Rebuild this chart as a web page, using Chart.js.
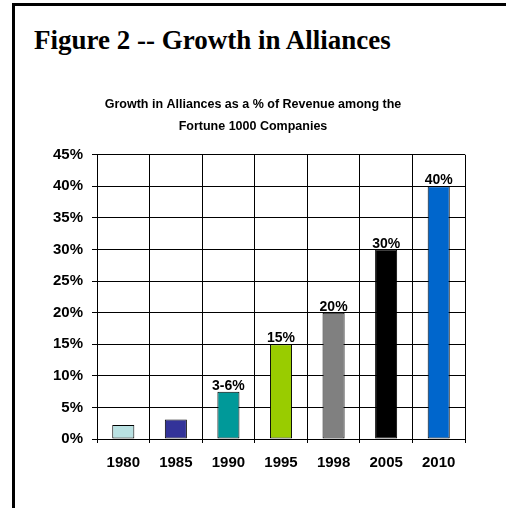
<!DOCTYPE html>
<html>
<head>
<meta charset="utf-8">
<script src="https://cdn.jsdelivr.net/npm/chart.js@4/dist/chart.umd.min.js"></script>
<style>
  body { margin: 0; background: #fff; }
  #wrap { position: relative; width: 506px; height: 508px; overflow: hidden; }
  #frame { position: absolute; left: 12px; top: 3px; width: 600px; height: 600px;
           border-left: 3px solid #000; border-top: 3px solid #000; }
  #fig { position: absolute; left: 34px; top: 25px; margin: 0; line-height: 31px;
         font: bold 27px "Liberation Serif", "Times New Roman", serif; color: #000; }
  #c { position: absolute; left: 0; top: 0; }
</style>
</head>
<body>
<div id="wrap">
  <div id="frame"></div>
  <h1 id="fig">Figure 2 -- Growth in Alliances</h1>
  <canvas id="c" width="506" height="508"></canvas>
</div>
<script>
// chart data
var years = ['1980', '1985', '1990', '1995', '1998', '2005', '2010'];
var share = [2.2, 3.1, 7.5, 15, 20, 30, 40];
var barLabels = ['', '', '3-6%', '15%', '20%', '30%', '40%'];
var barColors = ['#b9e1e2', '#333399', '#009999', '#99cc00', '#808080', '#000000', '#0066cc'];
var subtitle = ['Growth in Alliances as a % of Revenue among the', 'Fortune 1000 Companies'];

// write the text above each bar
var topLabels = {
  id: 'topLabels',
  afterDatasetsDraw: function(chart) {
    var ctx = chart.ctx;
    var meta = chart.getDatasetMeta(0);
    ctx.save();
    ctx.font = 'bold 14px "Liberation Sans", Arial, sans-serif';
    ctx.fillStyle = '#000';
    ctx.textAlign = 'center';
    ctx.textBaseline = 'alphabetic';
    meta.data.forEach(function(bar, i) {
      if (barLabels[i]) ctx.fillText(barLabels[i], bar.x, bar.y - 2);
    });
    ctx.restore();
  }
};

Chart.defaults.font.family = '"Liberation Sans", Arial, sans-serif';
Chart.defaults.color = '#000';

new Chart('c', {
  type: 'bar',
  data: {
    labels: years,
    datasets: [{
      data: share,
      backgroundColor: barColors,
      borderColor: '#000',
      borderWidth: 1,
      borderSkipped: false,
      categoryPercentage: 1,
      barPercentage: 0.42
    }]
  },
  options: {
    responsive: false,
    animation: false,
    layout: { padding: { left: 41, right: 41, top: 0, bottom: 20 } },
    plugins: {
      legend: { display: false },
      tooltip: { enabled: false },
      title: {
        display: true,
        text: subtitle,
        font: { size: 12.5, weight: 'bold', lineHeight: 1.75 },
        padding: { top: 94, bottom: 17 }
      }
    },
    scales: {
      x: {
        grid: { color: '#000', lineWidth: 1, tickLength: 4 },
        border: { color: '#000', width: 1 },
        ticks: { font: { size: 15, weight: 'bold' }, padding: 11, maxRotation: 0 },
        afterFit: function(s) { s.height = 49; }
      },
      y: {
        min: 0,
        max: 45,
        grid: { color: '#000', lineWidth: 1, tickLength: 5 },
        border: { color: '#000', width: 1 },
        ticks: {
          stepSize: 5,
          font: { size: 15, weight: 'bold' },
          padding: 9,
          callback: function(v) { return v + '%'; }
        },
        afterFit: function(s) { s.width = 56; }
      }
    }
  },
  plugins: [topLabels]
});
</script>
</body>
</html>
